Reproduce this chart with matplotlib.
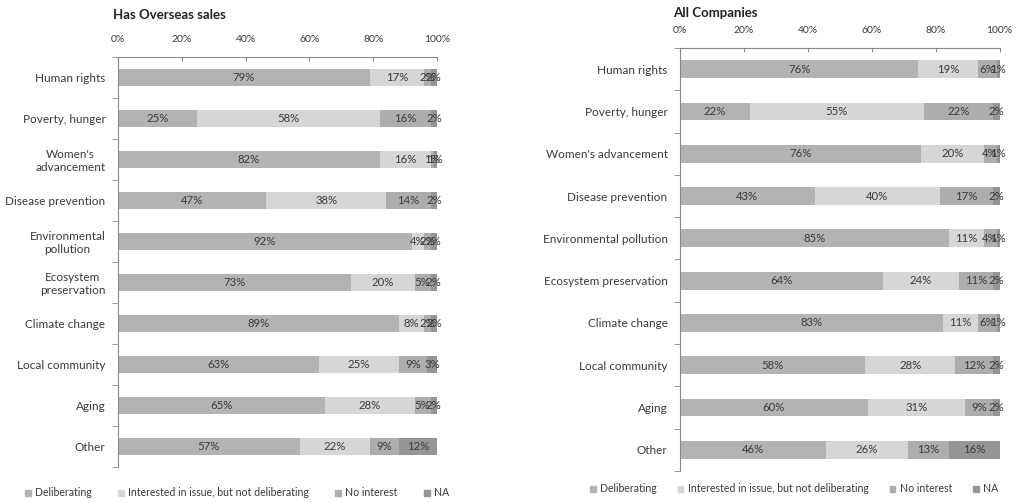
import matplotlib
matplotlib.use("Agg")
import matplotlib.pyplot as plt
import numpy as np
from matplotlib.patches import Patch

plt.rcParams['font.family'] = ['Lato', 'DejaVu Sans']

series = ["Deliberating", "Interested in issue, but not deliberating", "No interest", "NA"]
colors = ["#b3b3b3", "#d6d6d6", "#adadad", "#959595"]

cats_left = ["Human rights", "Poverty, hunger", "Women's\nadvancement", "Disease prevention",
             "Environmental\npollution", "Ecosystem\npreservation", "Climate change",
             "Local community", "Aging", "Other"]
cats_right = ["Human rights", "Poverty, hunger", "Women's advancement", "Disease prevention",
              "Environmental pollution", "Ecosystem preservation", "Climate change",
              "Local community", "Aging", "Other"]

overseas_delib = [79, 25, 82, 47, 92, 73, 89, 63, 65, 57]
overseas_interest = [17, 58, 16, 38, 4, 20, 8, 25, 28, 22]
overseas_noint = [2, 16, 1, 14, 2, 5, 2, 9, 5, 9]
overseas_na = [2, 2, 1, 2, 2, 2, 2, 3, 2, 12]

all_delib = [76, 22, 76, 43, 85, 64, 83, 58, 60, 46]
all_interest = [19, 55, 20, 40, 11, 24, 11, 28, 31, 26]
all_noint = [6, 22, 4, 17, 4, 11, 6, 12, 9, 13]
all_na = [1, 2, 1, 2, 1, 2, 1, 2, 2, 16]

fig = plt.figure(figsize=(10.18, 5.03), dpi=100)

def panel(rect, cats, data, title, title_xy, legend_anchor, colspacing):
    ax = fig.add_axes(rect)
    data = np.array(data, dtype=float)
    totals = data.sum(axis=0)
    y = np.arange(len(cats))
    left = np.zeros(len(cats))
    for i, row in enumerate(data):
        w = row / totals
        ax.barh(y, w, left=left, height=0.42, color=colors[i], label=series[i])
        for yy, l, ww, v in zip(y, left, w, row):
            ax.text(l + ww / 2, yy, f"{int(v)}%", ha='center', va='center',
                    fontsize=8.2, color='#3a3a3a')
        left += w
    ax.set_xlim(0, 1)
    ax.set_ylim(len(cats) - 0.5, -0.5)
    ax.xaxis.tick_top()
    ax.set_xticks(np.linspace(0, 1, 6))
    ax.set_xticklabels([f"{int(v)}%" for v in np.linspace(0, 100, 6)], fontsize=7.5, color='#3a3a3a')
    ax.tick_params(axis='x', direction='in', length=3, color='#888888', pad=9)
    ax.set_yticks(y)
    ax.set_yticklabels(cats, fontsize=8.5, color='#3a3a3a', multialignment='center')
    ax.set_yticks(np.arange(len(cats) + 1) - 0.5, minor=True)
    ax.tick_params(axis='y', which='major', length=0, pad=9)
    ax.tick_params(axis='y', which='minor', length=4, color='#888888', direction='out')
    for s in ['right', 'bottom']:
        ax.spines[s].set_visible(False)
    for s in ['top', 'left']:
        ax.spines[s].set_color('#888888')
        ax.spines[s].set_linewidth(0.8)
    fig.text(title_xy[0], title_xy[1], title, fontsize=9.5, fontweight='bold',
             color='#222222', ha='left', va='center')
    handles = [Patch(color=c) for c in colors]
    fig.legend(handles, series, ncol=4, frameon=False, fontsize=7.6,
               loc='center left', bbox_to_anchor=legend_anchor,
               handlelength=0.55, handleheight=0.55, handletextpad=0.4,
               columnspacing=colspacing, labelcolor='#3a3a3a')
    return ax

panel([0.1159, 0.0716, 0.3134, 0.8151], cats_left,
      [overseas_delib, overseas_interest, overseas_noint, overseas_na],
      "Has Overseas sales", (0.111, 0.970), (0.015, 0.020), 2.5)
panel([0.668, 0.0636, 0.314, 0.841], cats_right,
      [all_delib, all_interest, all_noint, all_na],
      "All Companies", (0.661, 0.974), (0.570, 0.028), 2.0)

fig.savefig("out.png", dpi=100, facecolor='white')
